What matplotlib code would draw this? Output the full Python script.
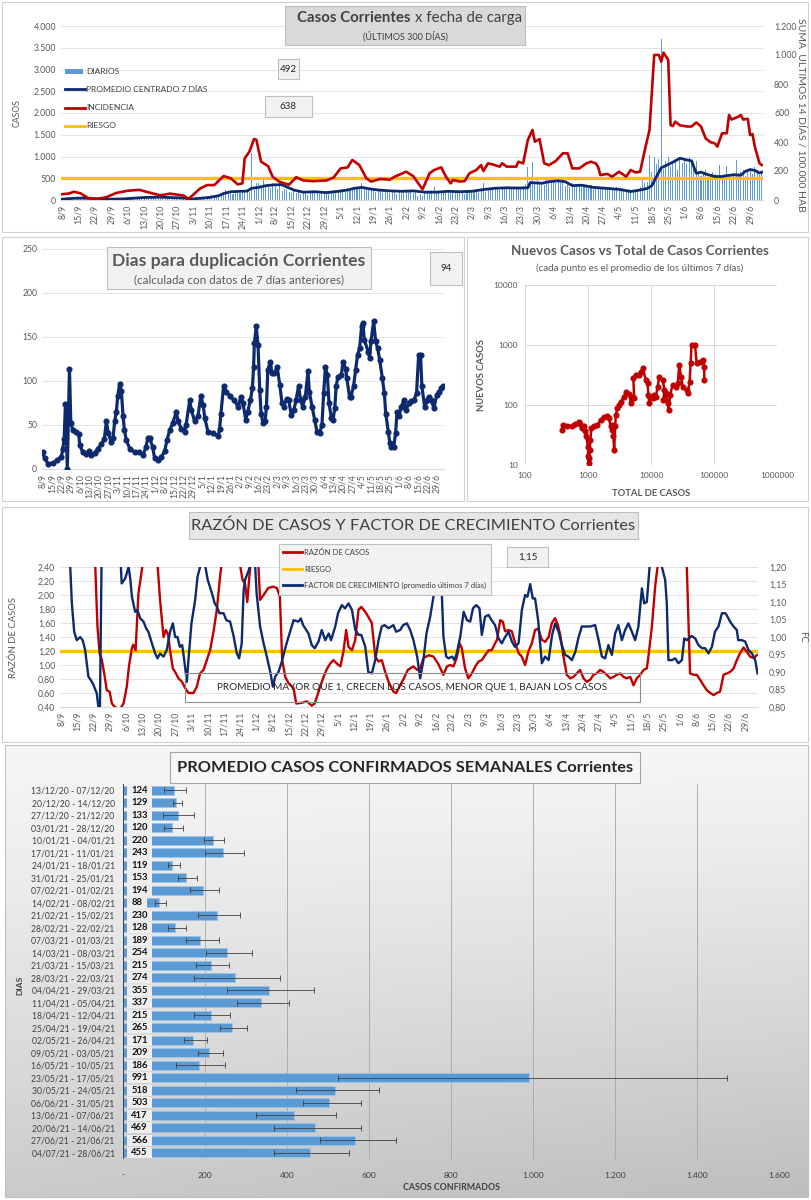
import matplotlib
matplotlib.use('Agg')
import matplotlib.pyplot as plt
import numpy as np
from matplotlib.ticker import FuncFormatter, NullLocator
from matplotlib.patches import Rectangle
from matplotlib.lines import Line2D

plt.rcParams['font.family'] = ['Lato', 'DejaVu Sans']

# ---------------- data ----------------
tick_lbls = ['8/9', '15/9', '22/9', '29/9', '6/10', '13/10', '20/10', '27/10', '3/11', '10/11',
             '17/11', '24/11', '1/12', '8/12', '15/12', '22/12', '29/12', '5/1', '12/1', '19/1',
             '26/1', '2/2', '9/2', '16/2', '23/2', '2/3', '9/3', '16/3', '23/3', '30/3', '6/4',
             '13/4', '20/4', '27/4', '4/5', '11/5', '18/5', '25/5', '1/6', '8/6', '15/6', '22/6', '29/6']

# casos diarios (one per day, 8/9 .. 3/7)
diarios = [25, 40, 35, 20, 15, 45, 30,
           50, 35, 45, 30, 20, 55, 40,
           15, 20, 10, 25, 30, 10, 15,
           10, 20, 15, 5, 25, 20, 10,
           35, 55, 40, 30, 45, 50, 40,
           70, 55, 65, 80, 40, 60, 75,
           60, 45, 40, 55, 70, 50, 45,
           55, 40, 30, 20, 35, 25, 15,
           30, 45, 60, 35, 50, 70, 55,
           80, 110, 95, 70, 120, 150, 130,
           240, 180, 160, 130, 170, 200, 150,
           180, 210, 250, 190, 1070, 230, 400,
           380, 320, 450, 300, 360, 280, 400,
           330, 250, 380, 200, 260, 220, 180,
           150, 200, 170, 230, 140, 190, 160,
           120, 180, 210, 150, 190, 130, 170,
           160, 200, 140, 190, 220, 150, 180,
           230, 260, 190, 280, 210, 300, 240,
           310, 250, 380, 270, 300, 220, 260,
           230, 190, 250, 200, 170, 230, 210,
           160, 200, 190, 140, 210, 170, 180,
           220, 180, 240, 150, 200, 100, 130,
           90, 160, 210, 180, 230, 300, 190,
           210, 160, 200, 170, 220, 150, 180,
           150, 190, 160, 210, 140, 180, 200,
           230, 180, 250, 160, 210, 380, 190,
           280, 220, 300, 250, 260, 230, 290,
           270, 320, 250, 290, 310, 260, 300,
           280, 330, 360, 770, 400, 880, 410,
           450, 380, 420, 350, 470, 390, 440,
           460, 400, 480, 380, 420, 330, 360,
           310, 380, 290, 340, 360, 300, 320,
           330, 280, 350, 260, 320, 290, 300,
           250, 300, 270, 310, 260, 240, 290,
           260, 210, 240, 200, 250, 190, 230,
           220, 250, 300, 450, 380, 420, 1030,
           650, 1000, 820, 950, 3700, 720, 900,
           1000, 780, 850, 920, 700, 980, 860,
           950, 830, 1000, 870, 780, 890, 620,
           560, 600, 700, 530, 500, 650, 590,
           520, 800, 480, 560, 780, 600, 540,
           620, 930, 580, 650, 700, 560, 640,
           720, 600, 750, 690, 580, 640]

prom_days = [0, 5, 9, 14, 20, 26, 30, 36, 42, 47, 52, 55, 59, 63, 67, 69, 72, 76, 79, 81,
             84, 87, 91, 94, 96, 99, 103, 108, 113, 118, 122, 125, 128, 131, 135, 140, 145, 150, 155, 160,
             165, 170, 175, 180, 185, 190, 195, 199, 200, 205, 208, 212, 215, 218, 222, 227, 232, 238, 243, 247,
             250, 252, 254, 256, 258, 261, 264, 267, 269, 270, 271, 273, 276, 279, 282, 284, 287, 290, 292, 294,
             296, 298, 299]
prom_vals = [20, 40, 45, 30, 20, 25, 40, 60, 65, 55, 45, 20, 40, 60, 100, 150, 190, 200, 205, 270,
             290, 330, 350, 350, 300, 230, 180, 190, 170, 200, 230, 270, 290, 260, 230, 210, 200, 210, 180, 180,
             200, 190, 200, 240, 270, 280, 275, 280, 400, 385, 420, 440, 420, 330, 340, 290, 270, 245, 195, 230,
             265, 330, 540, 740, 790, 870, 960, 920, 900, 750, 615, 640, 580, 540, 540, 560, 580, 570, 660, 700,
             680, 620, 640]

inc_days = [0, 3, 5, 8, 11, 15, 19, 23, 28, 33, 38, 42, 46, 52, 54, 59, 62, 65, 69, 72,
            75, 77, 78, 80, 82, 83, 85, 88, 90, 93, 97, 100, 103, 107, 113, 116, 119, 122, 124, 127,
            130, 132, 136, 140, 142, 147, 150, 154, 157, 159, 162, 164, 166, 167, 170, 172, 174, 177, 179, 180,
            182, 184, 187, 188, 190, 194, 195, 197, 199, 201, 202, 204, 206, 208, 211, 214, 216, 218, 221, 224,
            226, 228, 229, 230, 233, 235, 238, 241, 243, 245, 247, 249, 251, 253, 255, 256, 257, 259, 260, 261,
            262, 264, 267, 269, 271, 273, 275, 277, 279, 280, 282, 284, 285, 286, 289, 290, 291, 293, 294, 295,
            296, 298, 299]
inc_vals = [40, 45, 57, 45, 14, 7, 20, 48, 64, 70, 48, 32, 44, 30, 7, 80, 103, 103, 165, 150,
            108, 115, 287, 333, 421, 415, 264, 234, 159, 124, 106, 157, 135, 130, 135, 155, 218, 225, 276, 241,
            150, 127, 145, 140, 160, 195, 165, 74, 184, 207, 225, 161, 115, 138, 127, 130, 184, 207, 241, 200,
            253, 245, 230, 253, 230, 230, 264, 253, 414, 483, 402, 420, 253, 240, 270, 322, 322, 218, 218, 253,
            264, 253, 230, 172, 180, 161, 195, 161, 207, 190, 195, 345, 483, 1000, 1000, 954, 1016, 966, 517, 510,
            540, 515, 507, 507, 535, 507, 425, 399, 390, 368, 460, 460, 586, 555, 575, 586, 555, 560, 448, 455,
            368, 253, 241]

dup_days = [0, 1.5, 4, 8, 11, 14, 15, 16, 17, 18.4, 20, 21, 22.6, 25, 27, 27.6, 30, 32.6, 34.6, 36,
            38.8, 41, 43.8, 46, 47.5, 49, 51, 52.5, 53.7, 55, 56, 57.5, 58.7, 60, 61, 62.4, 65, 68.7, 72, 75,
            77, 78.6, 80, 82, 83.6, 86, 88.6, 91, 92.8, 94.8, 97, 99.8, 101, 103.5, 106, 107, 109.7, 111, 113.4, 115.9,
            118, 119.7, 121, 123.4, 127, 131, 132, 133, 135, 137, 139.6, 143, 145.8, 148, 149.5, 151.5, 153, 155, 156.5, 157.4,
            158, 159.4, 160.7, 162, 163, 164.4, 166, 167, 168, 170, 171, 173, 175, 177, 178.6, 180, 182, 183.6, 185.6, 187.5,
            189, 191, 192.5, 194, 196, 198, 199, 201, 203, 204.7, 206.7, 208.4, 209.7, 211, 212.4, 213.7, 215.4, 216.7, 218, 219,
            220.4, 223, 224, 226, 227, 229, 230, 232, 233.6, 235, 236.5, 238, 239, 240, 243, 244, 245, 247, 248.5, 250,
            251.5, 253.5, 255, 256, 258, 259, 260, 262, 263.4, 264.4, 266, 267.6, 269.6, 271, 273.4, 275, 277, 279, 280.6, 282,
            283, 285, 286, 288, 290, 292, 294, 295.8, 297.5, 299]
dup_vals = [19, 12, 6, 7, 10, 14, 23, 34, 74, 0, 114, 52, 44, 42, 40, 27, 19, 17, 20, 16,
            18, 23, 28, 34, 54, 41, 31, 35, 54, 65, 83, 97, 89, 60, 44, 33, 23, 19, 19, 16,
            25, 35, 35, 25, 12, 10, 14, 20, 33, 44, 52, 65, 54, 46, 42, 50, 78, 67, 54, 60,
            83, 73, 58, 42, 41, 37, 45, 63, 94, 88, 83, 78, 71, 82, 75, 56, 65, 78, 92, 116,
            143, 162, 141, 90, 63, 52, 54, 71, 113, 122, 109, 109, 116, 95, 75, 71, 80, 78, 61, 67,
            78, 94, 78, 71, 82, 111, 88, 71, 56, 42, 41, 50, 86, 116, 107, 75, 58, 56, 69, 94,
            105, 107, 122, 114, 103, 82, 82, 94, 113, 130, 137, 162, 166, 147, 133, 126, 145, 168, 145, 137,
            124, 103, 86, 63, 42, 30, 25, 25, 41, 65, 60, 71, 78, 67, 75, 77, 78, 86, 130, 130,
            94, 71, 77, 82, 78, 69, 84, 88, 92, 94]

tot_casos = [386, 400, 463, 557, 632, 714, 760, 790, 860, 910, 935, 1000, 1010, 1020, 1040, 1060, 1090, 1130,
             1240, 1400, 1580, 1790, 2020, 2150, 2290, 2370, 2430, 2530, 2600, 2700, 2760, 2930, 3100, 3300,
             3720, 3980, 4500, 4800, 5100, 5400, 5250, 5700, 6500, 6900, 7400, 8300, 8800, 9100, 9400, 9600,
             10700, 11300, 12000, 12700, 13600, 15400, 16300, 15700, 17400, 18400, 19100, 20100, 22000, 25100,
             26700, 28000, 30000, 32000, 37000, 38000, 41000, 42500, 44000, 50000, 53000, 60000, 67000, 70000, 70000]
nuevos_casos = [38, 46, 45, 44, 48, 53, 48, 41, 44, 37, 30, 20, 14, 10.7, 13, 18, 26, 41,
                44, 46, 56, 64, 66, 60, 44, 38, 46, 30, 18, 44, 68, 88, 100, 113,
                136, 167, 152, 106, 136, 129, 278, 316, 316, 358, 410, 261, 230, 147, 106, 136,
                129, 147, 136, 202, 296, 261, 178, 121, 157, 106, 83, 147, 215, 202,
                230, 464, 296, 202, 178, 157, 245, 493, 1000, 1000, 493, 525, 560, 437, 261]

rz_days = [0, 14, 15.6, 16.5, 17.5, 18.5, 19.6, 20.8, 21.8, 22.8, 24, 25.5, 26.8, 28.2, 29.2, 30.4, 31, 32, 33.2, 34.7,
           36, 40, 41.5, 42.5, 44, 45, 46, 46.8, 48, 49, 50.4, 51.9, 53.3, 54.7, 56.9, 58.3, 59.7, 61.2, 62.6, 64,
           65.5, 66.9, 68.3, 69.5, 76, 78, 79, 80, 81, 82, 84.5, 85.5, 87, 89, 91, 92.7, 94, 95, 96.3, 97.7,
           99.9, 101, 103.4, 105.6, 107.7, 109, 111.3, 112.8, 114, 115.6, 117, 118.5, 120, 121.3, 122.5, 123.5, 125, 126.4, 127.8, 129,
           130.7, 132, 133.5, 135, 136.4, 137.8, 139, 140.7, 142.8, 144, 145.7, 147, 149, 151.4, 153, 154.3, 155.7, 158, 160, 162,
           164.3, 165.8, 167.2, 168.6, 170, 171.2, 172.2, 173.6, 175, 176.5, 178, 179.4, 180.8, 182.2, 183.7, 185, 187.3, 188.7, 189.8, 190.8,
           192.3, 193.7, 195, 196.6, 198, 199.4, 200.8, 202.3, 203.7, 205, 206.6, 208, 209.5, 210.9, 212.3, 213.5, 214.5, 215.9, 217.3, 218.8,
           220.2, 221.6, 223, 224.5, 225.9, 227.4, 228.8, 230.2, 231.7, 233.1, 234.5, 236, 237.4, 238.8, 240.3, 241.7, 243.1, 244.6, 246, 247.4,
           248.9, 250.3, 251.7, 252.4, 253.9, 255.3, 256.3, 258, 268, 268.9, 269.6, 270.3, 271.8, 273.2, 274.6, 276.1, 277.5, 279, 280.4, 281.8,
           283.2, 284.7, 286.1, 287.5, 289, 290.4, 291.8, 293.3, 294.7, 296.1, 297.6, 299]
rz_vals = [3.0, 3.0, 1.55, 1.17, 1.07, 0.88, 0.64, 0.62, 0.45, 0.41, 0.38, 0.38, 0.45, 0.69, 1.0, 1.24, 1.29, 1.21, 2.02, 2.36,
           2.7, 2.7, 2.4, 1.93, 1.4, 1.5, 1.43, 1.21, 0.95, 0.90, 0.81, 0.76, 0.67, 0.60, 0.60, 0.69, 0.88, 0.93, 1.07, 1.21,
           1.48, 1.79, 2.26, 2.6, 2.6, 2.21, 2.17, 1.90, 2.31, 2.6, 2.6, 1.93, 2.0, 2.10, 2.12, 2.10, 1.98, 1.07, 0.83, 0.74,
           0.67, 0.45, 0.46, 0.48, 0.42, 0.45, 0.69, 0.83, 0.93, 1.02, 1.07, 1.02, 0.98, 1.19, 1.50, 1.26, 1.21, 1.36, 1.79, 1.83,
           1.76, 1.69, 1.60, 1.12, 1.05, 1.07, 0.93, 0.76, 0.62, 0.60, 0.71, 0.79, 0.93, 0.98, 0.93, 0.95, 1.10, 1.14, 1.12, 1.02,
           0.86, 0.98, 1.0, 0.98, 1.10, 1.31, 1.24, 0.95, 0.81, 0.88, 0.98, 1.05, 1.07, 1.14, 1.21, 1.21, 1.36, 1.64, 1.62, 1.48,
           1.50, 1.48, 1.33, 1.17, 1.12, 1.0, 1.19, 1.31, 1.50, 1.52, 1.36, 1.33, 1.40, 1.60, 1.67, 1.57, 1.43, 1.12, 0.86, 0.81,
           0.83, 0.88, 0.93, 0.81, 0.76, 0.79, 0.86, 0.88, 0.93, 0.90, 0.86, 0.81, 0.83, 0.86, 0.88, 0.83, 0.81, 0.83, 0.71, 0.81,
           0.86, 0.93, 0.95, 1.12, 1.55, 2.12, 2.4, 3.2, 3.2, 2.4, 1.64, 0.88, 0.86, 0.86, 0.79, 0.71, 0.64, 0.60, 0.57, 0.60,
           0.62, 0.86, 0.88, 0.90, 0.95, 1.07, 1.17, 1.25, 1.19, 1.12, 1.10, 1.14]

fc_days = [0, 3.9, 4.6, 5.6, 6.7, 8.2, 9.3, 10.3, 11.7, 13.2, 13.9, 15.3, 16, 16.6, 17.5, 21, 25, 26, 27.5, 29,
           29.7, 30.4, 31.8, 32.8, 34, 35.4, 36.5, 37.5, 39, 40.4, 41.4, 42.5, 44, 45.4, 46.8, 48, 49, 50, 51, 52,
           52.9, 54, 54.7, 56, 57.6, 58.6, 59.7, 61, 62, 63, 64.8, 66, 66.9, 68, 69.8, 71, 72.6, 74, 75.5, 76.5,
           77.6, 78.4, 79, 80.6, 81, 82, 83.4, 84, 85.5, 87, 88.4, 90, 91, 92, 93.4, 94.8, 96.3, 97.7, 99.9, 102,
           103, 104, 106.3, 107.7, 109, 110.6, 112, 113.5, 115, 116, 117.8, 119, 120.6, 122, 123.5, 125, 126.4, 127.8, 129, 130.7,
           132, 133.5, 135, 136.4, 137.8, 139, 140.7, 142.8, 144, 145.7, 147, 148.6, 150, 151.4, 153, 154.3, 155.7, 157, 158.6, 160,
           161.5, 163, 163.6, 164.3, 165.5, 166.5, 168, 169, 170, 171.5, 173, 174.4, 175.8, 177, 178.4, 179.8, 180.8, 182.2, 183.7, 185,
           186.5, 188, 189.4, 190.8, 192.3, 193.7, 195, 196.6, 198, 199.4, 200.4, 201.6, 202.7, 203.7, 205, 206.6, 208, 209.5, 211, 212.3,
           213.8, 215.2, 216.6, 218, 219.5, 221, 222.4, 223.8, 225.2, 227.4, 229.5, 231, 232.4, 233.8, 235.2, 236.7, 238.1, 239.5, 241, 242.4,
           243.8, 245.3, 246.7, 248.1, 249.6, 250.6, 251.7, 252.9, 255, 258.2, 259.6, 260.3, 261, 262.5, 263.9, 265.3, 266.8, 267.8, 268.9, 271,
           272.5, 273.9, 275.4, 276.8, 278.2, 279.7, 281, 282.5, 284, 285.4, 286, 287.5, 289, 290.4, 291, 292.6, 294, 295.4, 296.9, 298.3,
           299.3]
fc_vals = [1.30, 1.20, 1.096, 1.015, 0.991, 1.0, 0.99, 0.963, 0.887, 0.872, 0.863, 0.839, 0.80, 0.76, 1.30, 1.35, 1.30, 1.153, 1.167, 1.20,
           1.167, 1.115, 1.072, 1.077, 1.053, 1.044, 1.025, 1.015, 0.982, 0.953, 0.939, 0.953, 0.944, 0.963, 1.015, 1.039, 1.0, 1.0, 0.972, 0.977,
           0.934, 0.872, 0.934, 1.039, 1.106, 1.172, 1.20, 1.22, 1.20, 1.163, 1.125, 1.096, 1.087, 1.068, 1.068, 1.048, 1.044, 1.006, 0.953, 0.939,
           0.982, 1.13, 1.163, 1.19, 1.20, 1.24, 1.20, 1.125, 1.03, 0.982, 0.944, 0.896, 0.858, 0.887, 0.90, 0.929, 0.968, 1.0, 1.048, 1.044,
           1.053, 1.034, 1.01, 0.977, 0.968, 0.987, 1.02, 0.991, 1.01, 0.991, 1.03, 1.068, 1.091, 1.082, 1.096, 1.077, 1.02, 1.006, 1.006, 0.972,
           0.90, 0.896, 0.934, 0.991, 1.03, 1.034, 1.025, 1.034, 1.015, 1.02, 1.034, 1.039, 1.02, 0.991, 0.944, 0.882, 0.934, 1.01, 1.058, 1.115,
           1.20, 1.20, 1.125, 1.0, 0.944, 0.939, 0.944, 0.934, 0.953, 1.0, 1.072, 1.048, 1.044, 1.082, 1.091, 1.082, 1.006, 1.058, 1.063, 1.048,
           1.034, 0.996, 0.982, 1.0, 1.015, 0.987, 0.972, 0.982, 1.077, 1.12, 1.115, 1.151, 1.11, 1.11, 1.048, 0.925, 0.944, 0.934, 1.006, 1.039,
           1.015, 0.977, 0.949, 0.944, 0.934, 0.958, 1.0, 1.03, 1.03, 1.03, 1.034, 0.991, 0.944, 0.939, 0.977, 0.949, 1.01, 1.034, 0.991, 1.02,
           1.039, 1.015, 0.991, 1.03, 1.139, 1.096, 1.1, 1.20, 1.30, 1.20, 1.163, 1.096, 0.934, 0.934, 0.939, 0.925, 0.934, 0.996, 0.991, 1.003,
           0.996, 0.977, 0.968, 0.968, 0.953, 0.972, 1.015, 1.03, 1.068, 1.068, 1.063, 1.044, 1.03, 1.02, 0.991, 0.991, 0.987, 0.963, 0.953, 0.934,
           0.896]

semanas = ['13/12/20 - 07/12/20', '20/12/20 - 14/12/20', '27/12/20 - 21/12/20', '03/01/21 - 28/12/20',
           '10/01/21 - 04/01/21', '17/01/21 - 11/01/21', '24/01/21 - 18/01/21', '31/01/21 - 25/01/21',
           '07/02/21 - 01/02/21', '14/02/21 - 08/02/21', '21/02/21 - 15/02/21', '28/02/21 - 22/02/21',
           '07/03/21 - 01/03/21', '14/03/21 - 08/03/21', '21/03/21 - 15/03/21', '28/03/21 - 22/03/21',
           '04/04/21 - 29/03/21', '11/04/21 - 05/04/21', '18/04/21 - 12/04/21', '25/04/21 - 19/04/21',
           '02/05/21 - 26/04/21', '09/05/21 - 03/05/21', '16/05/21 - 10/05/21', '23/05/21 - 17/05/21',
           '30/05/21 - 24/05/21', '06/06/21 - 31/05/21', '13/06/21 - 07/06/21', '20/06/21 - 14/06/21',
           '27/06/21 - 21/06/21', '04/07/21 - 28/06/21']
prom_sem = [124, 129, 133, 120, 220, 243, 119, 153, 194, 88, 230, 128, 189, 254, 215, 274, 355, 337, 215, 265,
            171, 209, 186, 991, 518, 503, 417, 469, 566, 455]
sem_lo = [101, 123, 98, 101, 198, 200, 109, 135, 163, 78, 184, 109, 153, 202, 177, 173, 253, 278, 173, 236,
          148, 183, 129, 524, 423, 438, 325, 369, 480, 369]
sem_hi = [153, 143, 173, 146, 247, 296, 139, 180, 233, 104, 285, 153, 233, 314, 259, 383, 467, 404, 261, 303,
          205, 243, 249, 1473, 624, 580, 520, 580, 665, 552]

# ---------------- helpers ----------------
W, H = 811, 1200
fig = plt.figure(figsize=(W / 100, H / 100), dpi=100)
fig.patch.set_facecolor('white')

NAVY = '#0e2a6e'
RED = '#c00000'
GOLD = '#ffc000'
BLUE = '#5b9bd5'
GREY = '#595959'


def box(x, y, w, h):
    return [x / W, 1 - (y + h) / H, w / W, h / H]


def rect(x, y, w, h, fc='none', ec='#bfbfbf', lw=0.8, z=5):
    fig.patches.append(Rectangle((x / W, 1 - (y + h) / H), w / W, h / H, transform=fig.transFigure,
                                 fc=fc, ec=ec, lw=lw, zorder=z))


def txt(x, y, s, **kw):
    kw.setdefault('zorder', 7)
    fig.text(x / W, 1 - y / H, s, **kw)


def hline(x1, x2, y, **kw):
    fig.lines.append(Line2D([x1 / W, x2 / W], [1 - y / H, 1 - y / H], transform=fig.transFigure, zorder=7, **kw))


def clean(ax):
    for s in ax.spines.values():
        s.set_visible(False)
    ax.tick_params(length=0, colors=GREY, labelsize=6.3)


thou = FuncFormatter(lambda v, p: f"{int(round(v)):,}".replace(',', '.'))
comma2 = FuncFormatter(lambda v, p: f"{v:.2f}".replace('.', ','))
week_ticks = np.arange(0, 295, 7)

# panel frames
rect(2, 2, 806, 230, ec='#d0d0d0', z=1)
rect(2, 237, 462, 264, ec='#d0d0d0', z=1)
rect(467, 237, 341, 264, ec='#d0d0d0', z=1)
rect(2, 507, 806, 235, ec='#d0d0d0', z=1)

# ---------------- panel 1 ----------------
ax1 = fig.add_axes(box(61, 26, 702, 174))
ax1.bar(np.arange(len(diarios)), diarios, width=0.45, color=BLUE, zorder=2)
ax1.axhline(500, color=GOLD, lw=2.4, zorder=3)
ax1.plot(prom_days, prom_vals, color=NAVY, lw=2.0, zorder=4)
ax1.set_xlim(-0.5, 299.5)
ax1.set_ylim(0, 4000)
ax1.set_yticks(np.arange(0, 4001, 500))
ax1.yaxis.set_major_formatter(thou)
ax1.set_xticks(week_ticks)
ax1.set_xticklabels(tick_lbls, rotation=90)
ax1.grid(axis='y', color='#e3e3e3', lw=0.7, zorder=0)
ax1.set_axisbelow(True)
clean(ax1)
ax1.spines['bottom'].set_visible(True)
ax1.spines['bottom'].set_color('#d9d9d9')
ax1r = ax1.twinx()
ax1r.plot(inc_days, inc_vals, color=RED, lw=1.9)
ax1r.set_ylim(0, 1200)
ax1r.set_yticks(np.arange(0, 1201, 200))
ax1r.yaxis.set_major_formatter(thou)
clean(ax1r)
ax1r.tick_params(pad=8)
txt(17, 113, 'CASOS', rotation=90, ha='center', va='center', fontsize=6.3, color=GREY)
txt(801, 115, 'SUMA  ULTIMOS 14 DÍAS / 100.000 HAB', rotation=270, ha='center', va='center',
    fontsize=7.5, color=GREY)

rect(285, 6, 240, 39, fc='#d9d9d9', ec='#bfbfbf')
txt(411, 18, 'Casos Corrientes', ha='right', va='center', fontsize=10.8, fontweight='bold', color='#404040')
txt(415, 18, 'x fecha de carga', ha='left', va='center', fontsize=10.8, color='#404040')
txt(405, 36, '(ÚLTIMOS 300 DÍAS)', ha='center', va='center', fontsize=6.5, color='#404040')

legend1 = [('DIARIOS', 72), ('PROMEDIO CENTRADO 7 DÍAS', 89), ('INCIDENCIA', 108), ('RIESGO', 126)]
rect(65, 69, 18, 5, fc=BLUE, ec='none', z=7)
hline(65, 85, 89, color=NAVY, lw=2)
hline(65, 85, 108, color=RED, lw=2)
hline(65, 85, 126, color=GOLD, lw=2)
for s, yy in legend1:
    txt(86, yy, s, ha='left', va='center', fontsize=6.1, color='#404040')

rect(278, 59, 21, 20, fc='#f2f2f2', ec='#bfbfbf')
txt(288.5, 69, '492', ha='center', va='center', fontsize=7, color='#262626')
rect(265, 96, 47, 21, fc='#f2f2f2', ec='#bfbfbf')
txt(288.5, 106.5, '638', ha='center', va='center', fontsize=7, color='#262626')

# ---------------- panel 2 ----------------
ax2 = fig.add_axes(box(42, 249, 402, 220))
ax2.plot(dup_days, dup_vals, color=NAVY, lw=2.3, marker='o', ms=3.4, zorder=3)
ax2.set_xlim(-0.5, 299.5)
ax2.set_ylim(0, 250)
ax2.set_yticks(np.arange(0, 251, 50))
ax2.set_xticks(week_ticks)
ax2.set_xticklabels(tick_lbls, rotation=90)
ax2.grid(axis='y', color='#e3e3e3', lw=0.7, zorder=0)
ax2.set_axisbelow(True)
clean(ax2)
ax2.tick_params(labelsize=6.2)
ax2.spines['bottom'].set_visible(True)
ax2.spines['bottom'].set_color('#d9d9d9')

rect(107, 247, 264, 42, fc='#f2f2f2', ec='#bfbfbf')
txt(239, 261, 'Dias para duplicación Corrientes', ha='center', va='center', fontsize=12.6,
    fontweight='bold', color='#595959')
txt(239, 280, '(calculada con datos de 7 días anteriores)', ha='center', va='center', fontsize=8.4,
    color='#595959')
rect(430, 252, 32, 33, fc='#f2f2f2', ec='#bfbfbf')
txt(446, 268.5, '94', ha='center', va='center', fontsize=7, color='#262626')

# ---------------- panel 3 ----------------
ax3 = fig.add_axes(box(525, 285, 252, 180))
ax3.plot(tot_casos, nuevos_casos, color=RED, lw=1.8, marker='o', ms=3.4)
ax3.set_xscale('log')
ax3.set_yscale('log')
ax3.set_xlim(100, 1e6)
ax3.set_ylim(10, 1e4)
ax3.set_xticks([100, 1000, 10000, 100000, 1000000])
ax3.set_xticklabels(['100', '1000', '10000', '100000', '1000000'])
ax3.set_yticks([10, 100, 1000, 10000])
ax3.set_yticklabels(['10', '100', '1000', '10000'])
ax3.xaxis.set_minor_locator(NullLocator())
ax3.yaxis.set_minor_locator(NullLocator())
ax3.grid(color='#d9d9d9', lw=0.7)
ax3.set_axisbelow(True)
clean(ax3)
ax3.tick_params(labelsize=6, pad=5)
txt(640, 251, 'Nuevos Casos vs Total de Casos Corrientes', ha='center', va='center', fontsize=9.6,
    fontweight='bold', color=GREY)
txt(640, 268, '(cada punto es el promedio de los últimos 7 días)', ha='center', va='center',
    fontsize=7, color=GREY)
txt(651, 493, 'TOTAL DE CASOS', ha='center', va='center', fontsize=6.8, fontweight='bold', color=GREY)
txt(482, 375, 'NUEVOS CASOS', rotation=90, ha='center', va='center', fontsize=6.8,
    fontweight='bold', color=GREY)

# ---------------- panel 4 ----------------
ax4 = fig.add_axes(box(60, 567, 698, 140))
ax4.axhline(1.2, color=GOLD, lw=2.4, zorder=2)
ax4.plot(rz_days, rz_vals, color=RED, lw=1.7, zorder=3)
ax4.set_xlim(-0.5, 299.5)
ax4.set_ylim(0.4, 2.4)
ax4.set_yticks(np.arange(0.4, 2.41, 0.2))
ax4.yaxis.set_major_formatter(comma2)
ax4.set_xticks(week_ticks)
ax4.set_xticklabels(tick_lbls, rotation=90)
ax4.grid(axis='y', color='#e3e3e3', lw=0.7, zorder=0)
ax4.set_axisbelow(True)
clean(ax4)
ax4.spines['bottom'].set_visible(True)
ax4.spines['bottom'].set_color('#d9d9d9')
ax4r = ax4.twinx()
ax4r.plot(fc_days, fc_vals, color=NAVY, lw=1.7)
ax4r.set_ylim(0.8, 1.2)
ax4r.set_yticks(np.arange(0.8, 1.201, 0.05))
ax4r.yaxis.set_major_formatter(comma2)
clean(ax4r)
ax4r.tick_params(pad=8)
txt(14, 637, 'RAZÓN DE CASOS', rotation=90, ha='center', va='center', fontsize=6.8, color=GREY)
txt(803, 637, 'FC', rotation=270, ha='center', va='center', fontsize=6.8, color=GREY)

rect(189, 512, 449, 27, fc='#e7e6e6', ec='#bfbfbf')
txt(413, 526, 'RAZÓN DE CASOS Y FACTOR DE CRECIMIENTO Corrientes', ha='center', va='center',
    fontsize=11.8, color='#404040')
rect(279, 544, 212, 51, fc='#f2f2f2', ec='#bfbfbf')
hline(283, 302, 552, color=RED, lw=2)
hline(283, 302, 569, color=GOLD, lw=2)
hline(283, 302, 585, color=NAVY, lw=2)
txt(304, 552, 'RAZÓN DE CASOS', ha='left', va='center', fontsize=5.5, color='#404040')
txt(304, 569, 'RIESGO', ha='left', va='center', fontsize=5.5, color='#404040')
txt(304, 585, 'FACTOR DE CRECIMIENTO (promedio últimos 7 días)', ha='left', va='center', fontsize=5.5,
    color='#404040')
rect(507, 547, 41, 20, fc='#f2f2f2', ec='#bfbfbf')
txt(527.5, 557, '1,15', ha='center', va='center', fontsize=7, color='#262626')
rect(185, 673, 455, 29, fc='none', ec='#8c8c8c')
txt(412, 688, 'PROMEDIO MAYOR QUE 1, CRECEN LOS CASOS, MENOR QUE 1, BAJAN LOS CASOS', ha='center',
    va='center', fontsize=7.2, color='#262626')

# ---------------- panel 5 ----------------
axg = fig.add_axes(box(5, 745, 803, 452), zorder=-2)
gx = np.linspace(0, 1, 200)
gy = np.linspace(0, 1, 200)
GX, GY = np.meshgrid(gx, gy)
shade = 0.965 - 0.17 * GY ** 1.2 - 0.05 * GX * GY
axg.imshow(np.dstack([shade, shade, shade]), aspect='auto', extent=[0, 1, 1, 0])
axg.set_axis_off()
rect(5, 745, 803, 452, ec='#bfbfbf', z=1)

n = len(prom_sem)
yy = np.arange(n)
vals = np.array(prom_sem)
ax5 = fig.add_axes(box(123, 784, 656, 375))
ax5.set_facecolor('none')
ax5.barh(yy, vals, height=0.72, color=BLUE, edgecolor='#9dc3e6', lw=0.6, zorder=3)
ax5.errorbar(vals, yy, xerr=[vals - np.array(sem_lo), np.array(sem_hi) - vals], fmt='none',
             ecolor='#404040', elinewidth=0.6, capsize=2.2, capthick=0.6, zorder=4)
ax5.set_ylim(n - 0.5, -0.5)
ax5.set_xlim(0, 1600)
ax5.set_xticks(np.arange(0, 1601, 200))
ax5.xaxis.set_major_formatter(FuncFormatter(lambda v, p: '-' if v == 0 else f"{int(v):,}".replace(',', '.')))
ax5.set_yticks(yy)
ax5.set_yticklabels(semanas)
ax5.grid(axis='x', color='#a6a6a6', lw=0.6, zorder=0)
ax5.set_axisbelow(True)
clean(ax5)
ax5.tick_params(axis='y', labelsize=6.2, colors='#404040', pad=6)
ax5.tick_params(axis='x', labelsize=6.1, colors='#404040', pad=9)
ax5.axvline(0, color='#404040', lw=1.4, zorder=5)
# label column covering the start of each bar (narrower for two-digit labels)
lbl_w = [61 if v >= 100 else 48 for v in prom_sem]
ax5.barh(yy, lbl_w, left=10, height=0.86, color='#eeeeee', zorder=5)
for i, v in enumerate(prom_sem):
    ax5.text(10 + lbl_w[i] / 2, i, str(v), ha='center', va='center', fontsize=6.8, fontweight='bold',
             color='#111111', zorder=6)
txt(451, 1188, 'CASOS CONFIRMADOS', ha='center', va='center', fontsize=6.3, fontweight='bold', color='#404040')
txt(20, 985, 'DIAS', rotation=90, ha='center', va='center', fontsize=6, fontweight='bold', color='#404040')
rect(170, 752, 470, 31, fc='#f7f7f7', ec='#a6a6a6')
txt(405, 767.5, 'PROMEDIO CASOS CONFIRMADOS SEMANALES Corrientes', ha='center', va='center',
    fontsize=11.8, fontweight='bold', color='#262626')

fig.savefig('out.png', dpi=100)
